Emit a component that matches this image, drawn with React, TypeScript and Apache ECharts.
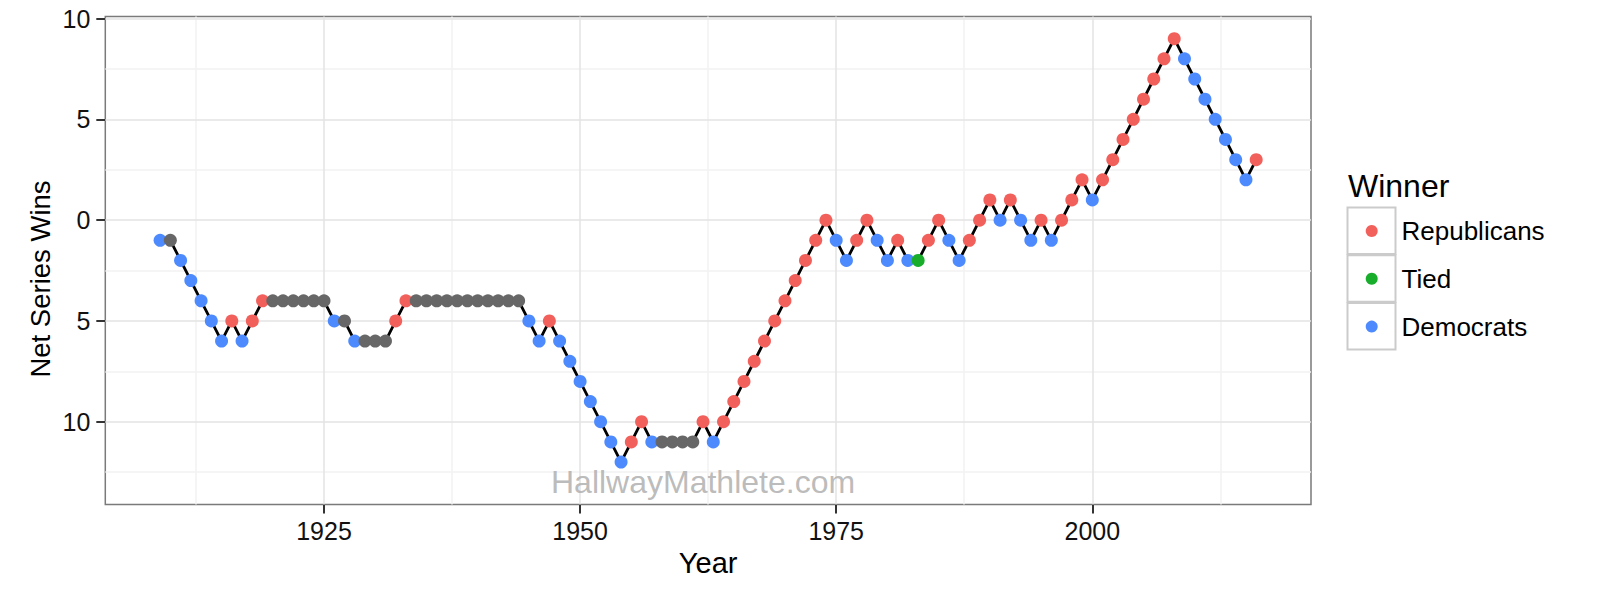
import React, { useEffect, useRef } from "react";
import * as echarts from "echarts";

// ---------- DATA ----------
const years = [
  1909, 1910, 1911, 1912, 1913, 1914, 1915, 1916, 1917, 1918, 1919,
  1920, 1921, 1922, 1923, 1924, 1925, 1926, 1927, 1928, 1929,
  1930, 1931, 1932, 1933, 1934, 1935, 1936, 1937, 1938, 1939,
  1940, 1941, 1942, 1943, 1944, 1945, 1946, 1947, 1948, 1949,
  1950, 1951, 1952, 1953, 1954, 1955, 1956, 1957, 1958, 1959,
  1960, 1961, 1962, 1963, 1964, 1965, 1966, 1967, 1968, 1969,
  1970, 1971, 1972, 1973, 1974, 1975, 1976, 1977, 1978, 1979,
  1980, 1981, 1982, 1983, 1984, 1985, 1986, 1987, 1988, 1989,
  1990, 1991, 1992, 1993, 1994, 1995, 1996, 1997, 1998, 1999,
  2000, 2001, 2002, 2003, 2004, 2005, 2006, 2007, 2008, 2009,
  2010, 2011, 2012, 2013, 2014, 2015, 2016,
];

const netWins = [
  -1, -1, -2, -3, -4, -5, -6, -5, -6, -5, -4,
  -4, -4, -4, -4, -4, -4, -5, -5, -6, -6,
  -6, -6, -5, -4, -4, -4, -4, -4, -4, -4,
  -4, -4, -4, -4, -4, -5, -6, -5, -6, -7,
  -8, -9, -10, -11, -12, -11, -10, -11, -11, -11,
  -11, -11, -10, -11, -10, -9, -8, -7, -6, -5,
  -4, -3, -2, -1, 0, -1, -2, -1, 0, -1,
  -2, -1, -2, -2, -1, 0, -1, -2, -1, 0,
  1, 0, 1, 0, -1, 0, -1, 0, 1, 2,
  1, 2, 3, 4, 5, 6, 7, 8, 9, 8,
  7, 6, 5, 4, 3, 2, 3,
];

// R = Republicans, T = Tied, D = Democrats, N = no game
const winners = [
  "D", "N", "D", "D", "D", "D", "D", "R", "D", "R", "R",
  "N", "N", "N", "N", "N", "N", "D", "N", "D", "N",
  "N", "N", "R", "R", "N", "N", "N", "N", "N", "N",
  "N", "N", "N", "N", "N", "D", "D", "R", "D", "D",
  "D", "D", "D", "D", "D", "R", "R", "D", "N", "N",
  "N", "N", "R", "D", "R", "R", "R", "R", "R", "R",
  "R", "R", "R", "R", "R", "D", "D", "R", "R", "D",
  "D", "R", "D", "T", "R", "R", "D", "D", "R", "R",
  "R", "D", "R", "D", "D", "R", "D", "R", "R", "R",
  "D", "R", "R", "R", "R", "R", "R", "R", "R", "D",
  "D", "D", "D", "D", "D", "D", "R",
];

const legendKeys = ["R", "T", "D"];
const legendNames = ["Republicans", "Tied", "Democrats"];

const xTicks = [1925, 1950, 1975, 2000];
const xMinor = [1912.5, 1937.5, 1962.5, 1987.5, 2012.5];
const yTicks = [-10, -5, 0, 5, 10];
const yMinor = [-12.5, -7.5, -2.5, 2.5, 7.5];

const watermarkText = "HallwayMathlete.com";
const watermarkPos = [1962, -13];

// ---------- STYLE ----------
const FONT = "'Liberation Sans', Arial, Helvetica, sans-serif";
const COLORS: Record<string, string> = {
  R: "#F2605C",
  T: "#18AE2C",
  D: "#4D8AFE",
  N: "#676767",
};
const MAJOR = "#E3E3E3";
const MINOR = "#F2F2F2";

export default function App() {
  const ref = useRef<HTMLDivElement>(null);

  useEffect(() => {
    document.body.style.margin = "0";
    const chart = echarts.init(ref.current!, null, { renderer: "svg" });

    const lineData = years.map((y, i) => [y, netWins[i]]);
    const pointData = years.map((y, i) => ({
      value: [y, netWins[i]],
      itemStyle: { color: COLORS[winners[i]], opacity: 1 },
    }));

    const gridLines = [
      ...xMinor.map((v) => ({ xAxis: v, lineStyle: { color: MINOR, width: 1.5, type: "solid" } })),
      ...yMinor.map((v) => ({ yAxis: v, lineStyle: { color: MINOR, width: 1.5, type: "solid" } })),
      ...xTicks.map((v) => ({ xAxis: v, lineStyle: { color: MAJOR, width: 1.5, type: "solid" } })),
      ...yTicks.map((v) => ({ yAxis: v, lineStyle: { color: MAJOR, width: 1.5, type: "solid" } })),
    ];

    const graphics: any[] = [
      {
        type: "text",
        x: 40,
        y: 279,
        rotation: Math.PI / 2,
        style: {
          text: "Net Series Wins",
          fontSize: 27.5,
          fontFamily: FONT,
          fill: "#000",
          align: "center",
          verticalAlign: "middle",
        },
      },
      {
        type: "text",
        x: 1348,
        y: 186,
        style: {
          text: "Winner",
          fontSize: 32,
          fontFamily: FONT,
          fill: "#000",
          align: "left",
          verticalAlign: "middle",
        },
      },
    ];
    legendKeys.forEach((k, i) => {
      const cy = 231 + i * 47.8;
      graphics.push({
        type: "rect",
        shape: { x: 1347.5, y: cy - 23.5, width: 48, height: 46.5 },
        style: { fill: "#fff", stroke: "#CBCBCB", lineWidth: 2 },
      });
      graphics.push({
        type: "circle",
        shape: { cx: 1371.7, cy, r: 6 },
        style: { fill: COLORS[k] },
      });
      graphics.push({
        type: "text",
        x: 1401.5,
        y: cy,
        style: {
          text: legendNames[i],
          fontSize: 26,
          fontFamily: FONT,
          fill: "#000",
          align: "left",
          verticalAlign: "middle",
        },
      });
    });

    const option: any = {
      animation: false,
      backgroundColor: "#fff",
      grid: {
        left: 105.3,
        right: 289,
        top: 16.5,
        bottom: 95.6,
        show: true,
        backgroundColor: "#fff",
        borderColor: "#7A7A7A",
        borderWidth: 1.5,
        containLabel: false,
        outerBoundsMode: "none",
      },
      xAxis: {
        type: "value",
        min: 1903.65,
        max: 2021.35,
        axisLine: { show: false, onZero: false },
        splitLine: { show: false },
        axisTick: {
          show: true,
          length: 9,
          customValues: xTicks,
          lineStyle: { color: "#333", width: 2 },
        },
        axisLabel: {
          customValues: xTicks,
          fontSize: 25,
          color: "#111",
          margin: 14,
          fontFamily: FONT,
          formatter: (v: number) => String(v),
        },
        name: "Year",
        nameLocation: "middle",
        nameGap: 42,
        nameTextStyle: { fontSize: 29, color: "#000", fontFamily: FONT },
      },
      yAxis: {
        type: "value",
        min: -14.1,
        max: 10.1,
        axisLine: { show: false, onZero: false },
        splitLine: { show: false },
        axisTick: {
          show: true,
          length: 9,
          customValues: yTicks,
          lineStyle: { color: "#333", width: 2 },
        },
        axisLabel: {
          customValues: yTicks,
          fontSize: 25,
          color: "#111",
          margin: 15,
          fontFamily: FONT,
          formatter: (v: number) => String(Math.abs(v)),
        },
      },
      series: [
        {
          type: "line",
          data: lineData,
          symbol: "none",
          showSymbol: false,
          z: 3,
          lineStyle: { color: "#000", width: 2.8 },
          silent: true,
          markLine: {
            z: 1,
            silent: true,
            animation: false,
            symbol: ["none", "none"],
            label: { show: false },
            emphasis: { disabled: true },
            data: gridLines,
          },
        },
        {
          type: "scatter",
          name: "Winner",
          data: pointData,
          symbolSize: 13,
          z: 4,
          silent: true,
          itemStyle: { opacity: 1 },
        },
        {
          type: "scatter",
          data: [watermarkPos],
          symbolSize: 0,
          z: 5,
          silent: true,
          itemStyle: { color: "transparent" },
          label: {
            show: true,
            position: "inside",
            formatter: watermarkText,
            fontSize: 32,
            fontFamily: FONT,
            color: "#AAAAAA",
          },
        },
      ],
      graphic: graphics,
    };

    chart.setOption(option);
    return () => chart.dispose();
  }, []);

  return <div ref={ref} style={{ width: 1600, height: 600 }} />;
}
